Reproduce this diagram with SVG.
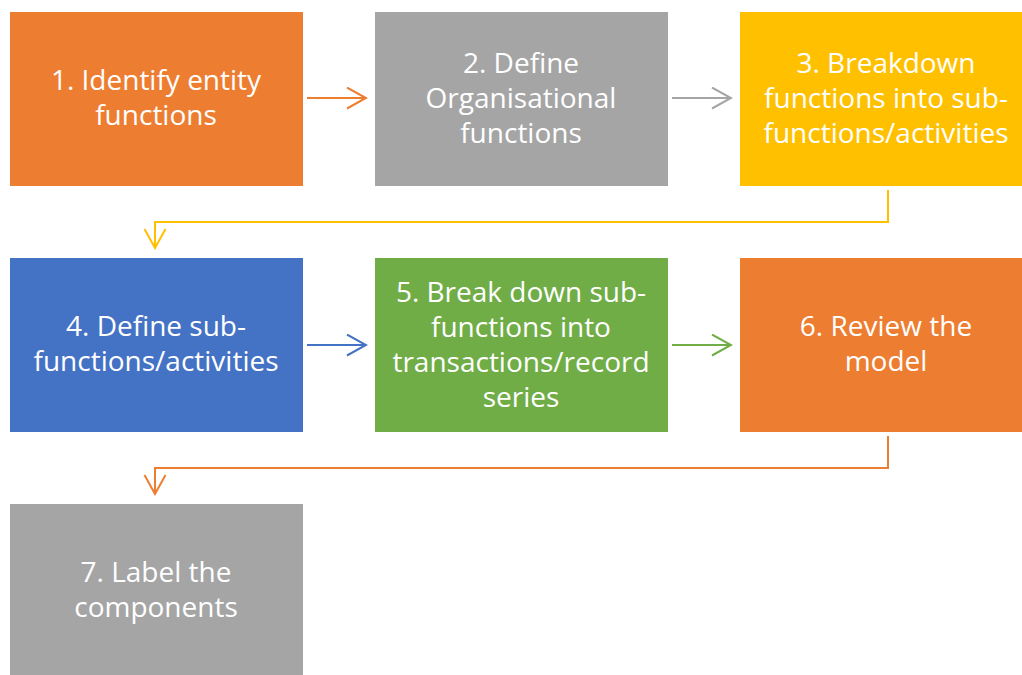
<svg xmlns="http://www.w3.org/2000/svg" width="1022" height="675" viewBox="0 0 1022 675">
<defs>
<style>
text{font-family:"Open Sans","Liberation Sans",sans-serif;font-size:28px;fill:#fff;text-anchor:middle}
.c{fill:none;stroke-width:2}
</style>
<marker id="aO" markerWidth="22" markerHeight="24" refX="20" refY="11.5" orient="auto" markerUnits="userSpaceOnUse"><path d="M1,1 L20,11.5 L1,22" fill="none" stroke="#ED7D31" stroke-width="2"/></marker>
<marker id="aG" markerWidth="22" markerHeight="24" refX="20" refY="11.5" orient="auto" markerUnits="userSpaceOnUse"><path d="M1,1 L20,11.5 L1,22" fill="none" stroke="#A5A5A5" stroke-width="2"/></marker>
<marker id="aY" markerWidth="22" markerHeight="24" refX="20" refY="11.5" orient="auto" markerUnits="userSpaceOnUse"><path d="M1,1 L20,11.5 L1,22" fill="none" stroke="#FFC000" stroke-width="2"/></marker>
<marker id="aB" markerWidth="22" markerHeight="24" refX="20" refY="11.5" orient="auto" markerUnits="userSpaceOnUse"><path d="M1,1 L20,11.5 L1,22" fill="none" stroke="#4472C4" stroke-width="2"/></marker>
<marker id="aN" markerWidth="22" markerHeight="24" refX="20" refY="11.5" orient="auto" markerUnits="userSpaceOnUse"><path d="M1,1 L20,11.5 L1,22" fill="none" stroke="#70AD47" stroke-width="2"/></marker>
</defs>
<g id="connectors">
<path class="c" d="M307,98 H366" stroke="#ED7D31" marker-end="url(#aO)"/>
<path class="c" d="M672,98 H731" stroke="#A5A5A5" marker-end="url(#aG)"/>
<path class="c" d="M888,190 V222 H155 V248" stroke="#FFC000" marker-end="url(#aY)"/>
<path class="c" d="M307,345 H366" stroke="#4472C4" marker-end="url(#aB)"/>
<path class="c" d="M672,345 H731" stroke="#70AD47" marker-end="url(#aN)"/>
<path class="c" d="M888,436 V468 H155 V494" stroke="#ED7D31" marker-end="url(#aO)"/>
</g>
<g id="n1"><rect x="10" y="12" width="293" height="174" fill="#ED7D31"/><text x="156" y="90">1. Identify entity</text><text x="156" y="125">functions</text></g>
<g id="n2"><rect x="375" y="12" width="293" height="174" fill="#A5A5A5"/><text x="521" y="73">2. Define</text><text x="521" y="108">Organisational</text><text x="521" y="143">functions</text></g>
<g id="n3"><rect x="740" y="12" width="282" height="174" fill="#FFC000"/><text x="886" y="73">3. Breakdown</text><text x="886" y="108">functions into sub-</text><text x="886" y="143">functions/activities</text></g>
<g id="n4"><rect x="10" y="258" width="293" height="174" fill="#4472C4"/><text x="156" y="336">4. Define sub-</text><text x="156" y="371">functions/activities</text></g>
<g id="n5"><rect x="375" y="258" width="293" height="174" fill="#70AD47"/><text x="521" y="302">5. Break down sub-</text><text x="521" y="337">functions into</text><text x="521" y="372">transactions/record</text><text x="521" y="407">series</text></g>
<g id="n6"><rect x="740" y="258" width="282" height="174" fill="#ED7D31"/><text x="886" y="336">6. Review the</text><text x="886" y="371">model</text></g>
<g id="n7"><rect x="10" y="504" width="293" height="171" fill="#A5A5A5"/><text x="156" y="582">7. Label the</text><text x="156" y="617">components</text></g>
</svg>
